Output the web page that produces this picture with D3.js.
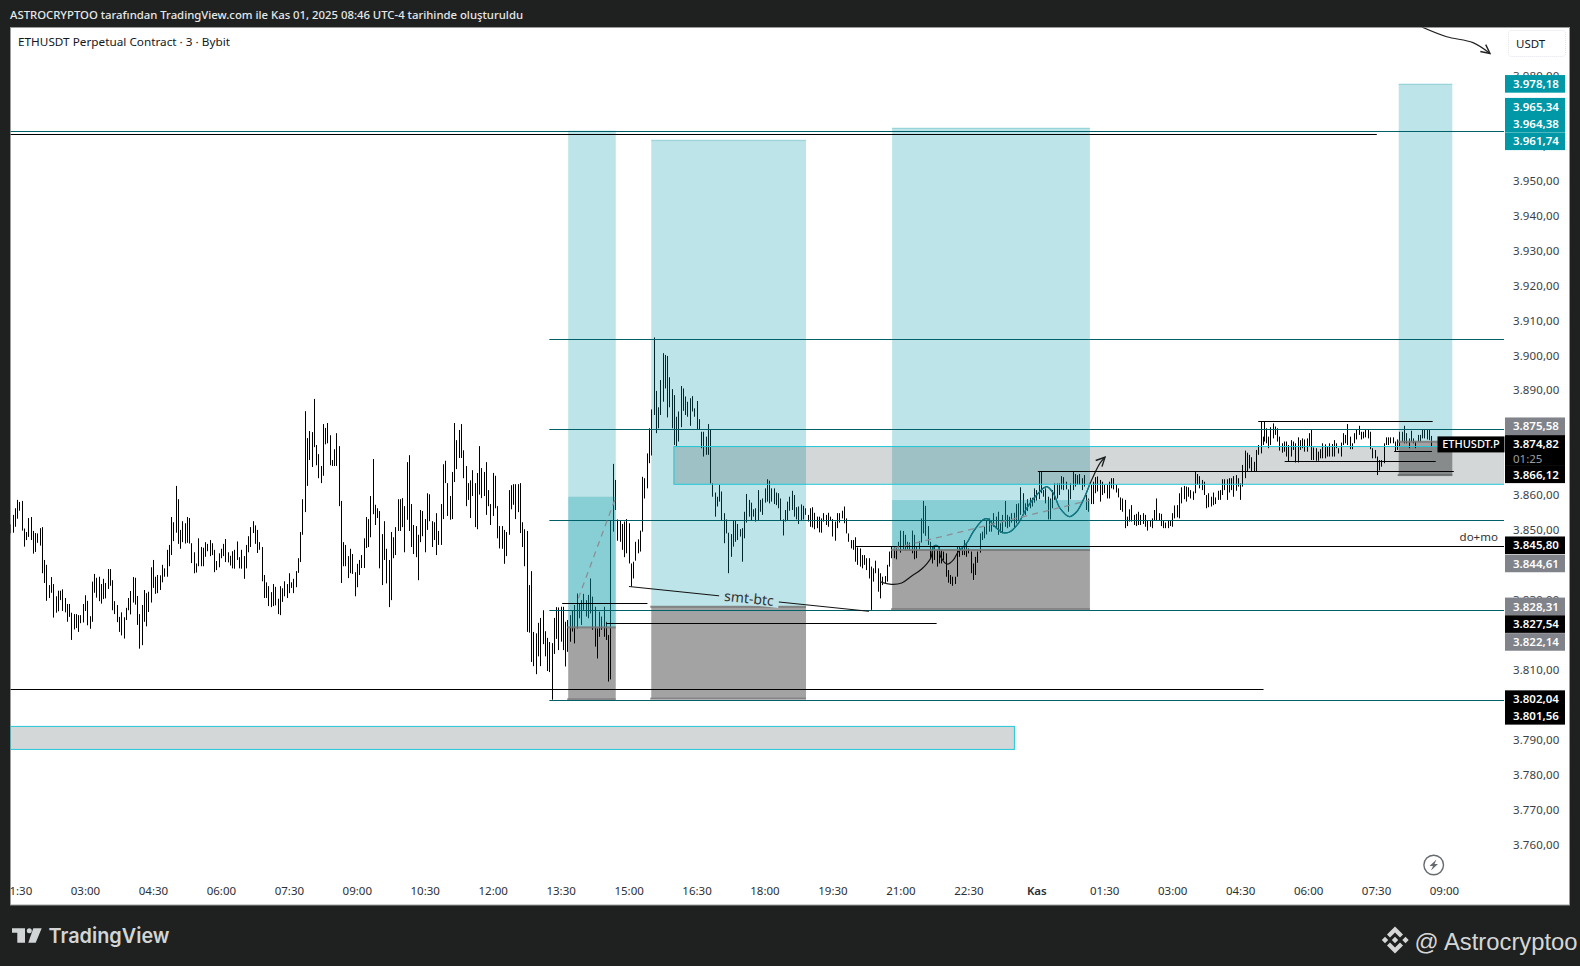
<!DOCTYPE html>
<html><head><meta charset="utf-8">
<script src="https://cdn.jsdelivr.net/npm/d3@7/dist/d3.min.js"></script>
<style>
html,body{margin:0;padding:0;background:#1e2120;}
svg{display:block;font-family:"Noto Sans",sans-serif;}
</style></head><body>
<svg id="c" width="1580" height="966"></svg>
<script>
// ---------- DATA: high / low price of each 3-minute bar ----------
const segmentStarts = [81, 807, 1248, 1738]; // minutes since 00:00 of the first day
const barsA = [[3851.8,3849.2],[3854.5,3849.4],[3856.4,3851.1],[3858.8,3853.4],[3858.2,3855.7],[3858.5,3850.0],[3850.6,3845.4],[3849.6,3847.3],[3853.6,3848.2],[3853.9,3847.3],[3849.9,3843.4],[3849.3,3843.9],[3849.2,3846.5],[3850.7,3845.7],[3851.0,3837.8],[3841.6,3835.0],[3840.2,3829.9],[3834.4,3830.7],[3836.7,3832.2],[3834.7,3825.1],[3831.2,3826.5],[3832.8,3826.9],[3832.8,3830.1],[3833.2,3827.0],[3830.7,3826.6],[3829.0,3823.9],[3829.0,3825.3],[3826.5,3818.7],[3826.1,3821.7],[3826.1,3822.1],[3825.8,3821.0],[3825.8,3823.5],[3829.0,3823.7],[3831.5,3827.0],[3829.9,3822.9],[3825.5,3821.9],[3835.4,3823.9],[3837.6,3832.2],[3836.5,3830.8],[3836.8,3829.8],[3834.7,3829.1],[3836.2,3830.4],[3835.0,3830.6],[3839.0,3833.3],[3839.0,3834.2],[3835.8,3827.2],[3829.8,3826.1],[3828.7,3823.8],[3825.3,3821.0],[3826.6,3820.0],[3825.2,3819.1],[3827.9,3824.4],[3830.7,3827.2],[3832.7,3826.0],[3836.7,3829.4],[3836.5,3828.8],[3831.3,3823.0],[3826.1,3816.2],[3828.7,3817.2],[3833.0,3823.9],[3832.1,3822.6],[3832.5,3826.7],[3839.5,3829.4],[3841.6,3833.6],[3836.8,3831.9],[3837.3,3832.1],[3837.2,3833.0],[3840.2,3835.2],[3839.2,3836.8],[3844.5,3836.8],[3845.9,3839.8],[3853.9,3843.0],[3852.4,3847.0],[3862.8,3849.4],[3859.0,3846.2],[3850.2,3844.8],[3852.7,3846.7],[3852.1,3846.3],[3853.9,3846.5],[3853.6,3846.3],[3846.4,3840.7],[3843.8,3837.8],[3840.6,3838.0],[3847.8,3839.8],[3845.3,3839.8],[3845.1,3839.8],[3846.7,3842.5],[3846.2,3844.1],[3847.3,3842.7],[3846.4,3843.0],[3844.5,3838.1],[3841.3,3838.7],[3843.5,3839.5],[3844.8,3842.1],[3846.2,3842.7],[3847.6,3841.0],[3843.8,3840.9],[3842.8,3840.0],[3844.1,3839.2],[3844.5,3839.1],[3846.9,3841.6],[3842.4,3839.2],[3844.5,3839.1],[3842.7,3836.2],[3845.9,3839.2],[3848.4,3843.8],[3851.0,3845.3],[3852.7,3849.3],[3851.5,3846.2],[3850.2,3843.6],[3846.7,3844.5],[3845.3,3835.5],[3837.3,3830.7],[3835.2,3830.7],[3834.1,3828.4],[3832.4,3828.1],[3834.7,3828.4],[3833.9,3828.6],[3830.5,3826.1],[3834.1,3825.8],[3833.5,3829.6],[3835.5,3831.2],[3834.7,3830.7],[3837.8,3832.1],[3835.2,3833.6],[3836.2,3832.1],[3838.4,3833.8],[3842.1,3837.9],[3849.6,3841.0],[3859.0,3848.8],[3884.2,3855.3],[3876.5,3862.8],[3878.5,3870.2],[3878.2,3868.2],[3887.7,3873.9],[3874.5,3868.7],[3871.9,3865.0],[3868.5,3863.6],[3880.5,3865.7],[3879.4,3874.7],[3880.8,3875.0],[3877.3,3868.7],[3870.2,3868.5],[3873.3,3868.5],[3877.9,3868.5],[3874.2,3857.0],[3858.5,3835.0],[3846.7,3839.8],[3845.9,3839.8],[3842.7,3836.4],[3844.8,3837.8],[3843.3,3837.6],[3838.1,3831.2],[3840.5,3833.8],[3841.6,3837.3],[3843.0,3839.3],[3847.8,3839.3],[3853.9,3845.0],[3853.3,3845.3],[3859.9,3848.1],[3870.5,3854.7],[3857.4,3851.6],[3856.4,3853.6],[3855.6,3839.2],[3849.0,3834.4],[3852.7,3841.6],[3844.8,3834.9],[3841.6,3828.1],[3849.6,3830.1],[3848.1,3842.1],[3851.0,3843.0],[3859.0,3849.9],[3859.0,3849.9],[3859.3,3851.0],[3857.0,3843.8],[3869.6,3853.1],[3871.6,3849.9],[3857.6,3845.3],[3851.6,3843.3],[3851.3,3842.4],[3848.8,3835.8],[3855.9,3846.7],[3855.6,3848.4],[3853.3,3843.8],[3860.7,3850.2],[3860.4,3852.7],[3852.7,3845.3],[3852.4,3847.3],[3855.0,3843.0],[3849.9,3845.9],[3857.6,3845.9],[3869.0,3853.3],[3870.0,3863.6],[3863.6,3854.2],[3859.9,3853.1],[3866.8,3853.3],[3880.8,3863.9],[3875.9,3867.6],[3878.8,3870.8],[3880.5,3870.8],[3873.0,3865.0],[3868.5,3857.0],[3863.6,3858.8],[3864.4,3853.6],[3867.3,3859.9],[3863.6,3851.0],[3866.5,3850.4],[3874.2,3860.3],[3867.9,3859.3],[3866.8,3859.9],[3869.6,3854.5],[3861.6,3857.0],[3857.6,3851.6],[3866.5,3854.2],[3865.7,3856.4],[3857.0,3847.8],[3851.3,3844.9],[3851.3,3844.8],[3850.2,3840.5],[3849.6,3842.7],[3861.6,3848.8],[3863.0,3856.1],[3863.3,3857.4],[3863.3,3853.3],[3863.3,3855.3],[3863.6,3849.3],[3852.4,3845.3],[3850.4,3839.8],[3849.9,3821.0],[3834.4,3820.8],[3838.4,3812.4],[3821.0,3811.2],[3820.6,3808.9],[3823.6,3814.0],[3825.0,3811.2],[3827.2,3817.5],[3821.2,3814.0],[3819.3,3809.8],[3818.1,3809.5],[3817.8,3801.6],[3825.0,3814.7],[3828.1,3819.0]];
const barsB = [[3828.0,3815.8],[3828.2,3818.2],[3828.2,3815.8],[3823.9,3811.1],[3824.4,3815.3],[3825.8,3818.2],[3827.1,3821.1],[3828.7,3817.7],[3832.0,3822.0],[3829.2,3824.9],[3830.1,3823.0],[3831.9,3827.3],[3830.1,3825.4],[3831.6,3824.9],[3836.3,3826.3],[3831.1,3821.6],[3828.2,3816.8],[3822.0,3813.4],[3826.8,3819.6],[3825.4,3821.6],[3828.2,3819.6],[3823.9,3818.7],[3820.1,3806.8],[3853.0,3807.4],[3869.1,3849.7],[3864.5,3855.9],[3853.2,3847.1],[3853.0,3846.8],[3851.9,3844.5],[3852.6,3842.4],[3853.3,3843.5],[3852.1,3840.6],[3840.6,3834.0],[3841.1,3836.3],[3846.8,3841.4],[3847.5,3843.5],[3850.0,3844.0],[3865.4,3849.7],[3865.0,3859.2],[3872.1,3862.1],[3879.3,3869.3],[3884.7,3871.5],[3905.3,3883.1],[3890.0,3877.9],[3885.3,3879.3],[3893.1,3883.1],[3900.8,3886.9],[3900.3,3890.7],[3900.0,3882.4],[3893.9,3885.3],[3890.5,3879.3],[3888.8,3874.5],[3882.6,3874.2],[3884.1,3875.5],[3891.4,3879.6],[3890.7,3884.3],[3888.4,3883.1],[3886.9,3882.6],[3887.9,3880.0],[3888.5,3884.1],[3885.0,3882.6],[3887.1,3878.8],[3881.9,3878.8],[3878.3,3873.6],[3878.3,3871.2],[3876.9,3871.7],[3880.5,3871.7],[3878.8,3863.5],[3863.5,3859.7],[3860.9,3854.0],[3859.7,3856.9],[3863.1,3858.3],[3861.2,3853.0],[3855.0,3846.4],[3853.2,3849.2],[3849.4,3837.8],[3849.0,3842.5],[3853.0,3845.4],[3853.0,3846.8],[3851.9,3847.3],[3850.4,3848.3],[3850.7,3841.1],[3855.4,3847.8],[3860.5,3852.3],[3858.8,3854.0],[3858.0,3853.0],[3856.1,3854.0],[3856.4,3852.6],[3861.6,3853.0],[3858.8,3855.4],[3859.2,3854.5],[3862.1,3858.0],[3864.7,3858.3],[3864.3,3857.8],[3862.1,3858.3],[3862.1,3857.6],[3860.9,3857.3],[3860.7,3856.4],[3859.2,3853.0],[3853.2,3848.6],[3855.9,3852.6],[3858.3,3853.0],[3859.7,3855.7],[3861.4,3855.9],[3860.2,3854.0],[3856.7,3853.2],[3856.9,3851.9],[3857.5,3853.0],[3857.1,3853.2],[3856.4,3854.5],[3854.5,3852.6],[3856.4,3851.1],[3856.7,3850.9],[3855.1,3850.4],[3854.0,3850.7],[3854.0,3849.5],[3853.5,3849.4],[3855.0,3852.6],[3854.5,3851.6],[3855.1,3851.1],[3854.0,3853.0],[3853.3,3848.3],[3852.6,3847.1],[3855.0,3850.7],[3855.0,3852.3],[3855.7,3853.5],[3856.9,3852.1],[3853.5,3849.2],[3849.2,3846.8],[3847.3,3844.9],[3847.3,3844.5],[3848.1,3841.1],[3845.2,3840.2],[3844.9,3839.7],[3843.0,3839.2],[3843.0,3840.2],[3842.1,3838.7],[3842.1,3836.3],[3839.7,3827.3],[3839.2,3835.4],[3841.4,3837.8],[3839.2,3832.5],[3837.8,3830.6],[3836.8,3834.4],[3837.0,3834.9],[3840.2,3835.4],[3844.0,3839.7],[3845.4,3842.1]];
const barsC = [[3845.1,3842.5],[3845.4,3842.1],[3845.4,3841.8],[3846.8,3844.9],[3850.0,3843.7],[3849.9,3844.7],[3848.8,3844.5],[3846.8,3844.7],[3846.6,3844.5],[3850.0,3843.5],[3848.8,3841.8],[3845.4,3842.1],[3847.0,3844.7],[3853.5,3846.6],[3858.5,3849.2],[3857.1,3848.5],[3851.3,3845.9],[3846.8,3841.8],[3845.4,3840.6],[3845.4,3841.6],[3844.5,3839.7],[3845.4,3840.6],[3844.5,3840.6],[3844.0,3841.6],[3843.5,3836.8],[3838.7,3835.1],[3837.3,3834.7],[3836.8,3834.2],[3836.8,3834.7],[3845.4,3836.8],[3845.6,3842.5],[3845.2,3843.0],[3847.3,3843.0],[3846.2,3842.5],[3844.9,3843.5],[3844.0,3837.8],[3840.6,3835.9],[3842.5,3837.3],[3844.0,3840.8],[3849.2,3843.7],[3849.7,3847.3],[3851.1,3847.8],[3852.9,3848.9],[3853.5,3849.7],[3853.0,3849.7],[3855.0,3851.1],[3854.0,3850.7],[3855.4,3848.8],[3852.1,3849.4],[3854.5,3849.2],[3858.5,3851.1],[3854.5,3850.7],[3854.0,3851.1],[3855.0,3852.3],[3855.1,3850.9],[3857.6,3852.1],[3857.8,3853.0],[3862.4,3854.5],[3860.7,3855.1],[3857.8,3854.5],[3859.0,3855.6],[3859.4,3856.4],[3859.4,3856.9],[3862.1,3858.0],[3861.6,3858.6],[3866.9,3859.0],[3866.9,3860.7],[3861.6,3859.7],[3862.1,3857.8],[3859.7,3853.2],[3859.2,3853.2],[3861.6,3856.4],[3863.5,3858.8],[3863.5,3859.2],[3863.5,3860.2],[3865.6,3861.8],[3865.3,3861.6],[3864.0,3861.8],[3861.8,3855.4],[3863.5,3859.0],[3866.9,3861.6],[3866.2,3862.6],[3865.9,3863.1],[3866.2,3863.1],[3865.0,3861.6],[3865.9,3862.6],[3860.2,3855.9],[3859.2,3855.4],[3863.1,3857.6],[3864.0,3857.6],[3865.3,3860.7],[3865.5,3861.2],[3864.5,3858.3],[3864.0,3860.2],[3863.1,3860.7],[3863.1,3859.2],[3864.0,3859.2],[3865.0,3862.1],[3865.0,3861.8],[3863.1,3860.9],[3862.1,3859.5],[3859.5,3855.9],[3859.2,3855.4],[3858.8,3850.7],[3854.0,3851.3],[3856.1,3852.6],[3857.3,3852.6],[3854.5,3851.6],[3854.8,3851.3],[3855.4,3851.6],[3854.5,3851.6],[3855.0,3851.9],[3854.5,3851.1],[3853.0,3850.0],[3852.9,3851.1],[3853.5,3850.7],[3855.9,3852.9],[3859.2,3853.0],[3855.0,3852.9],[3854.8,3851.3],[3852.9,3850.7],[3852.3,3850.7],[3852.9,3850.7],[3853.0,3851.3],[3855.0,3851.1],[3857.2,3853.5],[3857.3,3853.8],[3860.7,3853.5],[3862.4,3857.8],[3862.8,3859.0],[3862.6,3858.3],[3862.4,3859.7],[3861.6,3859.2],[3861.2,3858.8],[3866.9,3860.7],[3866.2,3863.1],[3865.6,3862.1],[3864.5,3861.6],[3864.0,3860.2],[3860.2,3856.4],[3860.7,3856.7],[3859.7,3856.9],[3860.9,3857.3],[3859.5,3857.6],[3861.4,3858.8],[3861.6,3858.8],[3864.7,3860.2],[3864.7,3861.6],[3864.7,3858.8],[3865.0,3860.9],[3865.0,3861.6],[3865.6,3859.7],[3865.9,3861.4],[3865.0,3862.6],[3863.5,3858.8],[3868.8,3862.6],[3872.9,3865.0],[3872.3,3866.9],[3871.7,3867.8],[3871.0,3866.9],[3869.7,3866.9],[3873.1,3866.9],[3874.5,3871.7],[3877.7,3872.1],[3876.9,3874.5]];
const barsD = [[3881.2,3874.5],[3881.2,3875.5],[3879.3,3875.0],[3876.9,3873.6],[3879.6,3874.5],[3880.7,3876.4],[3879.8,3877.4],[3879.3,3875.5],[3876.9,3872.9],[3875.0,3872.3],[3875.5,3872.6],[3875.5,3871.2],[3874.5,3869.7],[3875.9,3871.2],[3875.5,3873.1],[3875.0,3869.5],[3876.7,3869.5],[3875.9,3873.1],[3876.4,3873.6],[3876.1,3872.6],[3876.4,3872.6],[3877.9,3874.2],[3879.0,3870.2],[3873.8,3870.2],[3873.6,3870.0],[3872.6,3870.0],[3873.3,3870.7],[3875.0,3870.7],[3874.7,3870.7],[3874.0,3871.2],[3875.0,3871.2],[3874.8,3871.2],[3875.9,3871.2],[3875.0,3873.6],[3873.6,3872.1],[3875.2,3871.2],[3877.9,3874.5],[3877.4,3875.0],[3880.5,3874.5],[3876.9,3873.3],[3875.0,3873.3],[3877.9,3875.0],[3879.0,3876.1],[3880.0,3877.4],[3878.3,3876.1],[3878.3,3876.4],[3878.8,3876.7],[3879.0,3876.4],[3878.3,3873.3],[3873.6,3870.7],[3873.1,3870.7],[3871.2,3865.9],[3870.2,3867.2],[3870.2,3868.3],[3875.0,3869.3],[3876.7,3874.5],[3876.7,3874.5],[3876.7,3875.0],[3876.7,3875.0],[3875.5,3872.6],[3876.1,3873.1],[3878.3,3874.0],[3878.3,3875.5],[3880.0,3875.0],[3877.9,3875.0],[3876.4,3873.6],[3878.6,3875.5],[3876.4,3875.0],[3875.5,3873.6],[3877.4,3875.5],[3877.4,3875.5],[3878.8,3876.4],[3878.8,3876.4],[3878.8,3876.1],[3878.8,3875.9],[3877.1,3874.0]];

const priceTicks = [3760,3770,3780,3790,3810,3830,3850,3860,3890,3900,3910,3920,3930,3940,3950,3960,3980];
const timeTicks = [90,180,270,360,450,540,630,720,810,900,990,1080,1170,1260,1350,1440,1530,1620,1710,1800,1890,1980];
const timeLabels = ["01:30","03:00","04:30","06:00","07:30","09:00","10:30","12:00","13:30","15:00","16:30","18:00","19:30","21:00","22:30","Kas","01:30","03:00","04:30","06:00","07:30","09:00"];

// horizontal levels: [price, start minute, end minute]
const tealLevels = [[3964.31,81,2060],[3904.77,795,2060],[3879.0,795,2060],[3852.95,795,2060],[3827.2,795,2060],[3801.42,795,2060]];
const blackLevels = [[3963.46,81,1891],[3804.8,81,1741],[3845.73,1200,2060],[3823.46,870,1308],[3829.36,812,925],[3881.29,1734,1965],[3869.84,1769,1969],[3866.98,1442,1993],[3872.79,1914,1964]];

// position tools: [start, end, target top, inner band top, entry, stop]
const positionTools = [
  [820,883,3964.4,3859.7,3822.3,3801.7],
  [930,1135,3961.8,null,3828.2,3801.9],
  [1249,1511,3965.26,3858.75,3844.45,3827.5],
  [1920,1991,3977.86,null,3875.45,3865.9]
];
// grey zones: [start, end, top, bottom]
const zones = [[960,2060,3874.07,3863.26],[81,1411,3793.95,3787.36]];

const swingCurve = [[1233,3835.4],[1248.4,3834.6],[1261.7,3835.0],[1275,3837.0],[1288.2,3839.0],[1300.1,3842.1],[1304.5,3845.6],[1310.3,3845.4],[1313.3,3842.5],[1322.2,3840.4],[1330.1,3841.6],[1336.7,3844.0],[1347.8,3846.4],[1356.6,3849.7],[1369.9,3853.2],[1376.5,3853.3],[1383.1,3851.6],[1396.3,3849.4],[1405.2,3849.7],[1416.2,3852.1],[1427.3,3856.4],[1440.5,3860.2],[1453.7,3862.6],[1462.6,3860.7],[1471.4,3856.4],[1483.8,3854.0],[1493.5,3855.4],[1502.3,3858.8],[1513.3,3864.5],[1524.4,3869.3],[1531,3871.0]];
const topArrow = [[1950.5,3994.2],[1983.6,3991.4],[2018.4,3989.7],[2040.9,3986.6]];
const dashedLines = [[[833.4,3830.6],[882.4,3859.2]],[[1250.6,3844.9],[1511,3858.7]]];
const smtLine = [[900.5,3834.0],[1218.4,3826.9]];

const priceLabelValues = [3978.18,3965.34,3964.38,3961.74,3875.58,3874.82,3866.12,3845.80,3844.61,3828.31,3827.54,3822.14,3802.04,3801.56];
const priceLabelKinds  = ["t","t","t","t","g","k","k","k","g","g","k","g","k","k"];

// ---------- LAYOUT ----------
const svg = d3.select("#c");
const P = {l:10.5, r:1569.5, t:27.5, b:905, plotR:1504};
const x = d3.scaleLinear().domain([180,1980]).range([85,1444]);
const y = d3.scaleLinear().domain([3760,3950]).range([845,181.3]);
const locale = d3.formatLocale({decimal:",",thousands:".",grouping:[3],currency:["",""]});
const fmt = locale.format(",.2f");

const defs = svg.append("defs");
defs.append("clipPath").attr("id","panel").append("rect").attr("x",P.l).attr("y",P.t).attr("width",P.r-P.l).attr("height",P.b-P.t);
defs.append("clipPath").attr("id","plot").append("rect").attr("x",P.l).attr("y",P.t).attr("width",P.plotR-P.l).attr("height",P.b-P.t);
defs.append("clipPath").attr("id","band").append("rect").attr("x",x(1249)).attr("y",y(3965.26)).attr("width",x(1511)-x(1249)).attr("height",y(3844.45)-y(3965.26));
defs.append("marker").attr("id","arrowK").attr("viewBox","0 0 10 10").attr("refX",9).attr("refY",5).attr("markerWidth",11).attr("markerHeight",11).attr("markerUnits","userSpaceOnUse").attr("orient","auto")
  .append("path").attr("d","M1,1 L9,5 L1,9").attr("fill","none").attr("stroke","#222").attr("stroke-width",1.3);

svg.append("rect").attr("width",1580).attr("height",966).attr("fill","#1e2120");
svg.append("rect").attr("x",P.l).attr("y",P.t).attr("width",P.r-P.l).attr("height",P.b-P.t).attr("fill","#fff").attr("stroke","#9a9c9c").attr("stroke-width",1);

const plot = svg.append("g").attr("clip-path","url(#plot)");

// bars
const segments = [barsA,barsB,barsC,barsD];
const allBars = segments.flatMap((seg,s)=>seg.map((b,i)=>({t:segmentStarts[s]+i*3,h:b[0],l:b[1]})));
plot.append("g").attr("class","bars").selectAll("line").data(allBars).join("line")
  .attr("x1",d=>Math.round(x(d.t))+.5).attr("x2",d=>Math.round(x(d.t))+.5)
  .attr("y1",d=>y(d.h)).attr("y2",d=>y(d.l))
  .attr("stroke","#000").attr("stroke-width",1);

// swing curve, under the translucent tools
const lineGen = d3.line().x(d=>x(d[0])).y(d=>y(d[1]));
const smooth = d3.line().x(d=>x(d[0])).y(d=>y(d[1])).curve(d3.curveCatmullRom.alpha(.5));
plot.append("path").datum(swingCurve).attr("d",smooth)
  .attr("fill","none").attr("stroke","#1c1c1c").attr("stroke-width",1.2).attr("marker-end","url(#arrowK)");

// position tools
const tools = plot.append("g");
positionTools.forEach(([t0,t1,top,band,entry,stop])=>{
  const X=x(t0), W=x(t1)-x(t0);
  tools.append("rect").attr("x",X).attr("width",W).attr("y",y(top)).attr("height",y(entry)-y(top)).attr("fill","#0097a7").attr("fill-opacity",.26);
  tools.append("rect").attr("x",X).attr("width",W).attr("y",y(top)-.5).attr("height",1.5).attr("fill","#0097a7").attr("fill-opacity",.2);
  if(band!==null) tools.append("rect").attr("x",X).attr("width",W).attr("y",y(band)).attr("height",y(entry)-y(band)).attr("fill","#0097a7").attr("fill-opacity",.28);
  tools.append("rect").attr("x",X).attr("width",W).attr("y",y(entry)).attr("height",y(stop)-y(entry)).attr("fill","#000").attr("fill-opacity",.36);
  [entry,stop].forEach(v=>tools.append("rect").attr("x",X-1).attr("width",W+1).attr("y",y(v)-1).attr("height",2).attr("fill","#777").attr("fill-opacity",.85));
});

// the part of the swing curve seen through the teal band
plot.append("g").attr("clip-path","url(#band)").append("path").datum(swingCurve).attr("d",smooth)
  .attr("fill","none").attr("stroke","#0c7b88").attr("stroke-width",1.2);

// grey zones
plot.append("g").selectAll("rect").data(zones).join("rect")
  .attr("x",d=>x(d[0])).attr("y",d=>y(d[2])).attr("width",d=>x(d[1])-x(d[0])).attr("height",d=>y(d[3])-y(d[2]))
  .attr("fill","rgb(10,35,35)").attr("fill-opacity",.18).attr("stroke","#22c8d8").attr("stroke-width",1);

// levels
plot.append("g").selectAll("line").data(tealLevels).join("line")
  .attr("x1",d=>x(d[1])).attr("x2",d=>x(d[2])).attr("y1",d=>Math.round(y(d[0]))+.5).attr("y2",d=>Math.round(y(d[0]))+.5)
  .attr("stroke","#006068").attr("stroke-width",1);
plot.append("g").selectAll("line").data(blackLevels).join("line")
  .attr("x1",d=>x(d[1])).attr("x2",d=>x(d[2])).attr("y1",d=>Math.round(y(d[0]))+.5).attr("y2",d=>Math.round(y(d[0]))+.5)
  .attr("stroke","#000").attr("stroke-width",1);

// dashed trend lines
plot.append("g").selectAll("path").data(dashedLines).join("path").attr("d",lineGen)
  .attr("fill","none").attr("stroke","#8a8f94").attr("stroke-width",1.3).attr("stroke-dasharray","6 5");

// smt line + label
const sa=[x(smtLine[0][0]),y(smtLine[0][1])], sb=[x(smtLine[1][0]),y(smtLine[1][1])];
const smtMid=[sa[0]+(sb[0]-sa[0])*.5, sa[1]+(sb[1]-sa[1])*.5];
plot.append("path").datum(smtLine).attr("d",lineGen).attr("stroke","#111").attr("stroke-width",1).attr("fill","none");
const ang=Math.atan2(sb[1]-sa[1],sb[0]-sa[0])*180/Math.PI;
plot.append("rect").attr("x",smtMid[0]-30).attr("y",smtMid[1]-6).attr("width",60).attr("height",12)
  .attr("transform",`rotate(${ang} ${smtMid[0]} ${smtMid[1]})`).attr("fill","#bde3e9");
plot.append("text").text("smt-btc").attr("x",smtMid[0]).attr("y",smtMid[1]+4.5)
  .attr("transform",`rotate(${ang} ${smtMid[0]} ${smtMid[1]})`).attr("text-anchor","middle").attr("font-size",14).attr("fill","#333");

// do+mo
plot.append("text").text("do+mo").attr("x",x(2026)).attr("y",y(3845.73)-5).attr("text-anchor","middle").attr("font-size",11.5).attr("fill","#333");

// top-right hand arrow
plot.append("path").datum(topArrow).attr("d",smooth)
  .attr("fill","none").attr("stroke","#222").attr("stroke-width",1.1).attr("marker-end","url(#arrowK)");

// axes
const yAxis = d3.axisRight(y).tickValues(priceTicks).tickSize(0).tickPadding(0).tickFormat(fmt);
const gy = svg.append("g").attr("transform","translate(1513,0)").call(yAxis);
gy.select(".domain").remove();
gy.attr("font-family",null).attr("font-size",null);
gy.selectAll("text").attr("font-size",11.5).attr("fill","#3a3e45").attr("letter-spacing",.1).attr("dy",".27em");

const xAxis = d3.axisBottom(x).tickValues(timeTicks).tickSize(0).tickPadding(0).tickFormat((d,i)=>timeLabels[i]);
const gx = svg.append("g").attr("clip-path","url(#panel)").append("g").attr("transform","translate(0,887)").call(xAxis);
gx.select(".domain").remove();
gx.attr("font-family",null).attr("font-size",null);
gx.selectAll("text").attr("font-size",11.5).attr("fill","#2b2f36")
  .attr("font-weight",(d,i)=>timeLabels[i]==="Kas"?600:400);

// price labels (stacked like the platform does when they collide)
const kindFill={t:"#0097a7",g:"#80838a",k:"#000"};
const labelNudge=[1,-21,-7.5,1,-15,0,0,0,14,0,15,14,1,16];
const labels=svg.append("g");
priceLabelValues.forEach((v,i)=>{
  const cy=y(v)+labelNudge[i];
  labels.append("rect").attr("x",1505).attr("y",cy-8.8).attr("width",60).attr("height",17.6).attr("fill",kindFill[priceLabelKinds[i]]);
});
// countdown block
const cd=y(3874.82);
labels.append("rect").attr("x",1505).attr("y",cd-8).attr("width",60).attr("height",30).attr("fill","#000");
labels.append("rect").attr("x",1437.5).attr("y",cd-7.5).attr("width",67).attr("height",16).attr("fill","#000");
labels.append("text").text("ETHUSDT.P").attr("x",1471).attr("y",cd+4.3).attr("text-anchor","middle").attr("font-size",11).attr("font-weight",500).attr("fill","#fff");
labels.append("text").text("01:25").attr("x",1513).attr("y",cd+19).attr("font-size",11.5).attr("fill","#9a9ea4");
priceLabelValues.forEach((v,i)=>{
  const cy=y(v)+labelNudge[i];
  labels.append("text").text(fmt(v)).attr("x",1513).attr("y",cy+4.2).attr("font-size",11.5).attr("font-weight",600).attr("fill","#fff");
});

// USDT button
svg.append("rect").attr("x",1508.5).attr("y",30.5).attr("width",57).attr("height",26).attr("rx",3).attr("fill","#fff").attr("stroke","#e0e3eb").attr("stroke-dasharray","1 1");
svg.append("text").text("USDT").attr("x",1516).attr("y",48).attr("font-size",11.5).attr("fill","#131722");

// titles
svg.append("text").text("ASTROCRYPTOO tarafından TradingView.com ile Kas 01, 2025 08:46 UTC-4 tarihinde oluşturuldu")
  .attr("x",10).attr("y",19).attr("font-size",11.5).attr("font-weight",500).attr("fill","#e6e8e8").attr("textLength",513).attr("lengthAdjust","spacingAndGlyphs");
svg.append("text").text("ETHUSDT Perpetual Contract · 3 · Bybit").attr("x",18).attr("y",46).attr("font-size",11.5).attr("fill","#131722").attr("textLength",212).attr("lengthAdjust","spacingAndGlyphs");

// lightning badge
svg.append("circle").attr("cx",1433.7).attr("cy",865).attr("r",9.8).attr("fill","#fff").attr("stroke","#666b70").attr("stroke-width",1.4);
svg.append("path").attr("d","M1436.5,859.5 L1429.5,866 L1433,866 L1431,870.5 L1438,864 L1434.5,864 Z").attr("fill","#666b70");

// footer: TradingView mark and wordmark
const foot=svg.append("g").attr("fill","#d2d5d5");
foot.append("path").attr("d","M12,928.3 H25 V942.7 H17.3 V932.7 H12 Z");
foot.append("circle").attr("cx",29.3).attr("cy",930.7).attr("r",2.5);
foot.append("path").attr("d","M33.3,928.3 H41.7 L35.7,942.7 H28.3 Z");
foot.append("text").text("TradingView").attr("x",48.5).attr("y",943).style("font-family","Inter, sans-serif").attr("font-size",20.5).attr("font-weight",600).attr("textLength",121).attr("lengthAdjust","spacingAndGlyphs");

// footer: watermark
const wm=svg.append("g").attr("fill","#d6d6d6");
wm.append("path").attr("d","M1395,936.8 L1398.2,940 L1395,943.2 L1391.8,940 Z M1385,936.8 L1388.2,940 L1385,943.2 L1381.8,940 Z M1405.5,936.8 L1408.7,940 L1405.5,943.2 L1402.3,940 Z");
wm.append("path").attr("d","M1395,926.5 L1403,934.5 L1400,937.5 L1395,932.5 L1390,937.5 L1387,934.5 Z");
wm.append("path").attr("d","M1395,953.5 L1403,945.5 L1400,942.5 L1395,947.5 L1390,942.5 L1387,945.5 Z");
wm.append("text").text("@ Astrocryptoo").attr("x",1414.5).attr("y",950).style("font-family","'Liberation Sans', sans-serif").attr("font-size",23.8);
</script>
</body></html>
